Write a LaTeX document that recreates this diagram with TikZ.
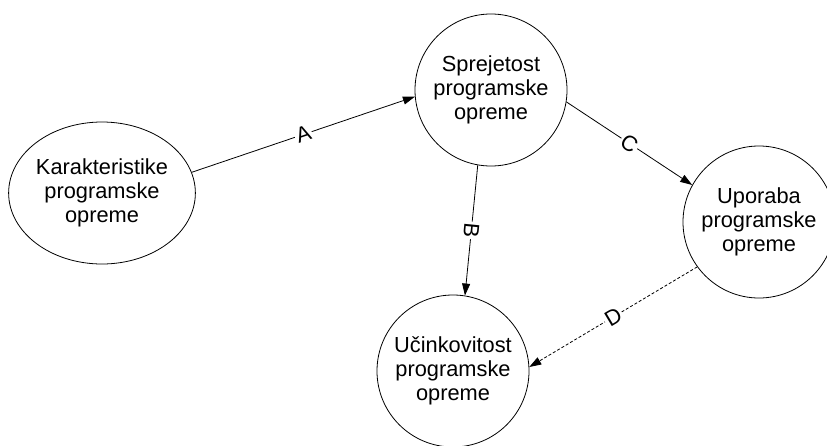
\documentclass[tikz,border=0pt]{standalone}
\usepackage{fontspec}
\setmainfont{Liberation Sans}
\usetikzlibrary{arrows.meta,shapes.geometric}
\begin{document}
\begin{tikzpicture}[x=1pt,y=-1pt,
  every node/.style={font=\fontsize{21.8}{24}\selectfont},
  bubble/.style={draw, line width=0.8pt, circle, minimum size=152pt, inner sep=0pt, align=center},
  oval/.style={draw, line width=0.8pt, ellipse, minimum width=181pt, minimum height=142pt, inner sep=0pt, align=center},
  link/.style={line width=0.8pt, -{Triangle[length=12pt,width=8pt]}},
  tag/.style={fill=white, inner sep=1.5pt, sloped, pos=0.5}]
\useasboundingbox (0,0) rectangle (827,445);

% the four concepts of the model
\node[oval]   (kar) at (102,193) {Karakteristike\\programske\\opreme};
\node[bubble] (spr) at (491,90)  {Sprejetost\\programske\\opreme};
\node[bubble] (upo) at (759,222) {Uporaba\\programske\\opreme};
\node[bubble] (uci) at (453,371) {Učinkovitost\\programske\\opreme};

% relations between them
\draw[link] (kar.13)   -- node[tag] {A} (spr.185);
\draw[link] (spr.-100) -- node[tag, allow upside down] {B} (uci.81);
\draw[link] (spr.-9)   -- node[tag] {C} (upo.151);
\draw[link, dash pattern=on 3pt off 2pt] (upo.216) -- node[tag] {D} (uci.3);
\end{tikzpicture}
\end{document}
